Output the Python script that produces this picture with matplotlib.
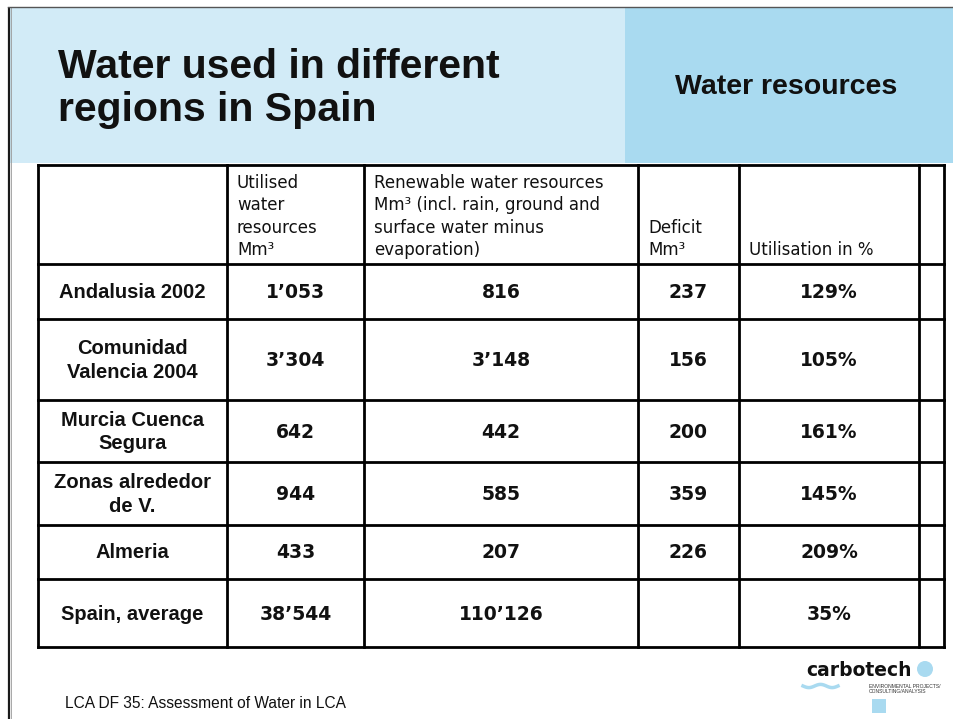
import matplotlib
matplotlib.use("Agg")
import matplotlib.pyplot as plt
from matplotlib.patches import Rectangle, Circle
import numpy as np

plt.rcParams['font.family'] = ['Liberation Sans', 'DejaVu Sans']

# ---- data ----
title = "Water used in different\nregions in Spain"
section = "Water resources"
headers = ["",
           "Utilised\nwater\nresources\nMm³",
           "Renewable water resources\nMm³ (incl. rain, ground and\nsurface water minus\nevaporation)",
           "Deficit\nMm³",
           "Utilisation in %",
           ""]
regions = ["Andalusia 2002", "Comunidad\nValencia 2004", "Murcia Cuenca\nSegura",
           "Zonas alrededor\nde V.", "Almeria", "Spain, average"]
utilised = ["1’053", "3’304", "642", "944", "433", "38’544"]
renewable = ["816", "3’148", "442", "585", "207", "110’126"]
deficit = ["237", "156", "200", "359", "226", ""]
utilisation = ["129%", "105%", "161%", "145%", "209%", "35%"]
footer = "LCA DF 35: Assessment of Water in LCA"

# ---- layout ----
W, H = 954, 719
fig = plt.figure(figsize=(W / 100, H / 100), dpi=100)
ax = fig.add_axes([0, 0, 1, 1])
ax.set_xlim(0, W)
ax.set_ylim(H, 0)
ax.axis('off')

light = "#D2EBF7"
dark = "#A9DAF0"
ink = "#111111"

# header bands
ax.add_patch(Rectangle((9, 8), 616, 155, color=light, lw=0))
ax.add_patch(Rectangle((625, 8), W - 625, 155, color=dark, lw=0))
# slide border
ax.plot([9, 9], [7, H], color="#1a1a1a", lw=1.6, solid_capstyle='butt')
ax.plot([11, 11], [8, H], color="#9a9a9a", lw=0.6)
ax.plot([8, W], [7, 7], color="#555555", lw=1.0)

ax.text(58, 48, title, fontsize=29.5, fontweight='bold', ha='left', va='top',
        linespacing=1.17, color=ink)
ax.text(786, 87, section, fontsize=20.5, fontweight='bold', ha='center', va='center',
        color=ink)

# table grid
col_x = [38, 227, 364, 638, 739, 919, 944]
row_y = [165, 264, 319, 400, 462, 525, 579, 647]
lw = 2.0
for x in col_x:
    ax.plot([x, x], [row_y[0], row_y[-1]], color='black', lw=lw, solid_capstyle='projecting')
for y in row_y:
    ax.plot([col_x[0], col_x[-1]], [y, y], color='black', lw=lw, solid_capstyle='projecting')

# header text (bottom aligned, left aligned)
for i, h in enumerate(headers):
    if not h:
        continue
    ax.text(col_x[i] + 10, row_y[1] - 5, h, fontsize=12, ha='left', va='bottom',
            linespacing=1.31, color=ink, family=['DejaVu Sans'])

# body
columns = [regions, utilised, renewable, deficit, utilisation]
for r in range(len(regions)):
    yc = (row_y[r + 1] + row_y[r + 2]) / 2
    for c, col in enumerate(columns):
        xc = (col_x[c] + col_x[c + 1]) / 2
        if c == 0:
            ax.text(xc, yc + 1, col[r], fontsize=14.5, fontweight='bold', ha='center',
                    va='center', linespacing=1.27, color=ink)
        else:
            ax.text(xc, yc + 1, col[r], fontsize=13.5, fontweight='bold', ha='center',
                    va='center', color=ink, family=['DejaVu Sans'])

# footer
ax.text(65, 703, footer, fontsize=11.2, ha='left', va='center', color=ink)

# logo
ax.text(859, 670, "carbotech", fontsize=13.5, fontweight='bold', ha='center',
        va='center', color=ink, family=['DejaVu Sans'])
ax.add_patch(Circle((925, 669), 8, color=dark, lw=0))
wx = np.linspace(803, 838, 60)
ax.plot(wx, 686 + 1.6 * np.sin((wx - 803) / 35 * 2 * np.pi * 1.5), color=dark, lw=2.5)
ax.text(869, 689, "ENVIRONMENTAL PROJECTS/\nCONSULTING/ANALYSIS", fontsize=3.6,
        ha='left', va='center', color="#333333", linespacing=1.2)
ax.add_patch(Rectangle((872, 699), 14, 14, color=dark, lw=0))

fig.savefig("out.png", dpi=100)
